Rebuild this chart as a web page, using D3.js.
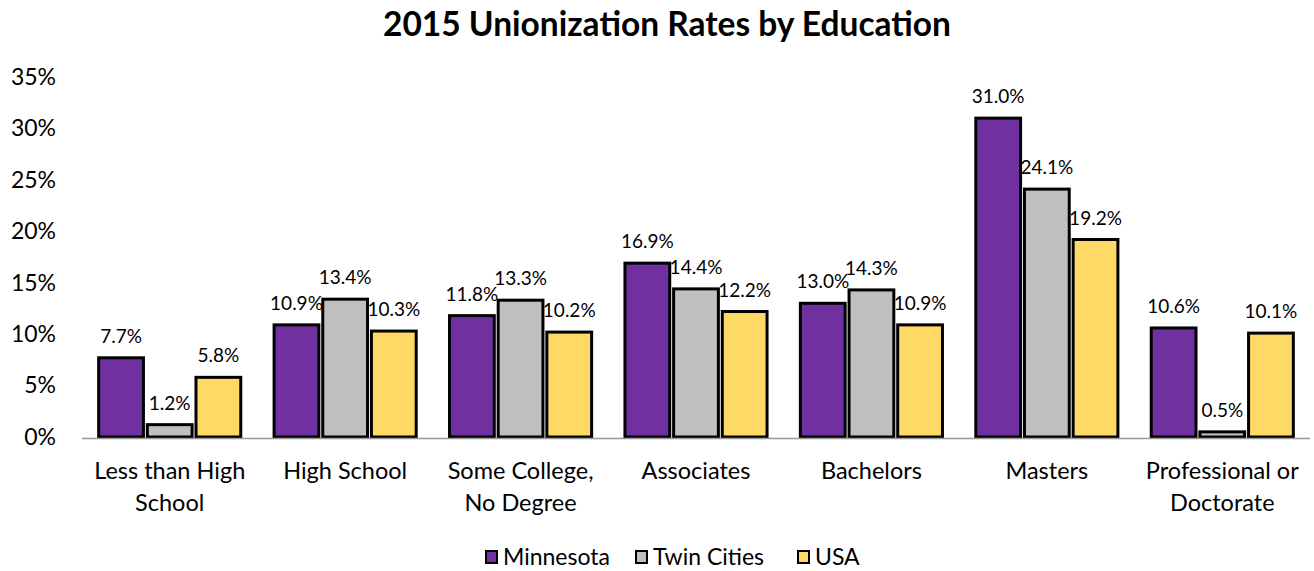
<!DOCTYPE html>
<html>
<head>
<meta charset="utf-8">
<script src="https://cdnjs.cloudflare.com/ajax/libs/d3/7.8.5/d3.min.js"></script>
<style>
  body { margin: 0; background: #fff; }
  svg { font-family: Lato, "Open Sans", sans-serif; }
</style>
</head>
<body>
<svg id="chart" width="1314" height="571"></svg>
<script>
// data
var categories = [["Less than High", "School"], ["High School"], ["Some College,", "No Degree"],
    ["Associates"], ["Bachelors"], ["Masters"], ["Professional or", "Doctorate"]];
var seriesNames = ["Minnesota", "Twin Cities", "USA"];
var minnesota = [7.7, 10.9, 11.8, 16.9, 13.0, 31.0, 10.6];
var twinCities = [1.2, 13.4, 13.3, 14.4, 14.3, 24.1, 0.5];
var usa = [5.8, 10.3, 10.2, 12.2, 10.9, 19.2, 10.1];
var yTicks = [0, 5, 10, 15, 20, 25, 30, 35];
var colors = ["#7030A0", "#BFBFBF", "#FFD966"];

function generateChart() {
    var svg = d3.select("#chart");
    var left = 82, right = 1310, top = 77, bottom = 437;
    var series = [minnesota, twinCities, usa];

    var x0 = d3.scaleBand()
        .domain(d3.range(categories.length))
        .range([left, right])
        .paddingInner(0.19)
        .paddingOuter(0.095);
    var x1 = d3.scaleBand()
        .domain(d3.range(series.length))
        .range([0, x0.bandwidth()])
        .paddingInner(0.08);
    var y = d3.scaleLinear().domain([0, 35]).range([bottom, top]);

    // title
    svg.append("text")
        .attr("x", 667).attr("y", 36)
        .attr("text-anchor", "middle")
        .attr("font-size", 33.5).attr("font-weight", "bold")
        .text("2015 Unionization Rates by Education");

    // y axis labels
    let yAxis = svg.append("g")
        .attr("transform", "translate(" + (left - 26) + ",0)")
        .call(d3.axisLeft(y).tickValues(yTicks).tickSize(0).tickPadding(0).tickFormat(d => d + "%"));
    yAxis.select(".domain").remove();
    yAxis.selectAll("text").attr("font-size", 23).attr("font-family", "Lato, sans-serif").attr("fill", "#000");

    // bars
    let groups = svg.append("g")
        .selectAll(".group")
        .data(categories)
        .enter()
        .append("g")
        .attr("class", "group")
        .attr("transform", (d, i) => "translate(" + x0(i) + ",0)");

    groups.each(function (c, i) {
        let g = d3.select(this);
        series.forEach((s, j) => {
            g.append("rect")
                .attr("x", x1(j))
                .attr("y", y(s[i]))
                .attr("width", x1.bandwidth())
                .attr("height", y(0) - y(s[i]))
                .attr("fill", colors[j])
                .attr("stroke", "#000")
                .attr("stroke-width", 3);
            g.append("text")
                .attr("x", x1(j) + x1.bandwidth() / 2)
                .attr("y", y(s[i]) - 15)
                .attr("text-anchor", "middle")
                .attr("font-size", 19)
                .text(s[i].toFixed(1) + "%");
        });
    });

    // baseline
    svg.append("line")
        .attr("x1", left).attr("x2", right)
        .attr("y1", y(0) + 1.5).attr("y2", y(0) + 1.5)
        .attr("stroke", "#999").attr("stroke-width", 1.5);

    // category labels
    let labels = svg.append("g")
        .selectAll(".cat")
        .data(categories)
        .enter()
        .append("text")
        .attr("class", "cat")
        .attr("text-anchor", "middle")
        .attr("font-size", 23.5)
        .attr("x", (d, i) => x0(i) + x0.bandwidth() / 2)
        .attr("y", 479);
    labels.selectAll("tspan")
        .data(d => d)
        .enter()
        .append("tspan")
        .attr("x", function () { return d3.select(this.parentNode).attr("x"); })
        .attr("dy", (d, k) => k === 0 ? 0 : 32)
        .text(d => d);

    // legend
    let legendX = [486, 636, 798];
    let legend = svg.append("g")
        .selectAll(".legend")
        .data(seriesNames)
        .enter()
        .append("g")
        .attr("class", "legend")
        .attr("transform", (d, i) => "translate(" + legendX[i] + ",551)");
    legend.append("rect")
        .attr("width", 11).attr("height", 12)
        .attr("fill", (d, i) => colors[i])
        .attr("stroke", "#000").attr("stroke-width", 2);
    legend.append("text")
        .attr("x", 17).attr("y", 14)
        .attr("font-size", 23)
        .text(d => d);
}

generateChart();
</script>
</body>
</html>
